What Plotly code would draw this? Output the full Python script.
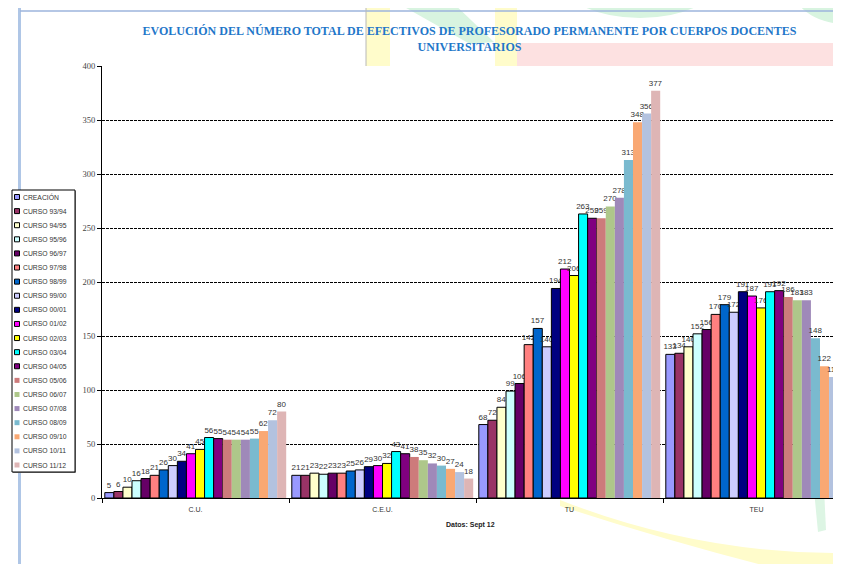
import plotly.graph_objects as go

# ---------------- data ----------------
categories = ["C.U.", "C.E.U.", "TU", "TEU"]
series_names = ["CREACIÓN", "CURSO 93/94", "CURSO 94/95", "CURSO 95/96", "CURSO 96/97",
                "CURSO 97/98", "CURSO 98/99", "CURSO 99/00", "CURSO 00/01", "CURSO 01/02",
                "CURSO 02/03", "CURSO 03/04", "CURSO 04/05", "CURSO 05/06", "CURSO 06/07",
                "CURSO 07/08", "CURSO 08/09", "CURSO 09/10", "CURSO 10/11", "CURSO 11/12"]
cu_values = [5, 6, 10, 16, 18, 21, 26, 30, 34, 41, 45, 56, 55, 54, 54, 54, 55, 62, 72, 80]
ceu_values = [21, 21, 23, 22, 23, 23, 25, 26, 29, 30, 32, 43, 41, 38, 35, 32, 30, 27, 24, 18]
tu_values = [68, 72, 84, 99, 106, 142, 157, 140, 194, 212, 206, 263, 259, 259, 270, 278, 313, 348, 356, 377]
teu_values = [133, 134, 140, 152, 156, 170, 179, 172, 191, 187, 176, 191, 192, 186, 183, 183, 148, 122, 112, 84]
y_ticks = [0, 50, 100, 150, 200, 250, 300, 350, 400]

# ---------------- styles ----------------
colors = ["#9999FF", "#993366", "#FFFFCC", "#CCFFFF", "#660066", "#FF8080", "#0066CC",
          "#CCCCFF", "#000080", "#FF00FF", "#FFFF00", "#00FFFF", "#800080",
          "#CD7B7B", "#AEC78A", "#9F89B9", "#7ABACF", "#F9A873", "#B3C2DF", "#DEB5B5"]
outlined = 13  # first series drawn with black outline

OFF = 8                      # page body margin offset
W, H = 841, 564
PAGE_L, PAGE_T = 102, 66     # plot-area corner in page pixels
L, T = PAGE_L - OFF, PAGE_T - OFF
PH = 432
PW = W - L
B = H - T - PH
CAT_W = 187.0


def px(x):
    return (x - PAGE_L) / PW


def py(y):
    return 1 - (y - PAGE_T) / PH


fig = go.Figure()
for i, name in enumerate(series_names):
    vals = [cu_values[i], ceu_values[i], tu_values[i], teu_values[i]]
    fig.add_trace(go.Bar(
        name=name, x=categories, y=vals,
        marker=dict(color=colors[i],
                    line=dict(color="black", width=1 if i < outlined else 0)),
        text=[str(v) for v in vals], textposition="outside",
        textfont=dict(family="Liberation Sans", size=8, color="#333333"),
        constraintext="none", textangle=0, cliponaxis=False,
        showlegend=False,
    ))

shapes = []
# background watermark (approximate)
bg = dict(layer="below", xref="paper", yref="paper", line=dict(width=0))
shapes.append(dict(type="rect", x0=px(366), x1=px(390), y0=py(0), y1=py(66), fillcolor="#FFFCCB", **bg))
shapes.append(dict(type="rect", x0=px(495), x1=px(517), y0=py(0), y1=py(66), fillcolor="#FFFCCB", **bg))
shapes.append(dict(type="rect", x0=px(517), x1=px(850), y0=py(43), y1=py(66), fillcolor="#FDE1E1", **bg))
shapes.append(dict(type="path", path="M %f,%f L %f,%f L %f,%f L %f,%f Z" % (
    px(392), py(0), px(450), py(0), px(494), py(42), px(470), py(44)), fillcolor="#D8F4E0", **bg))
shapes.append(dict(type="circle", x0=px(560), x1=px(720), y0=py(-60), y1=py(18), fillcolor="#D8F4E0", **bg))
shapes.append(dict(type="circle", x0=px(790), x1=px(900), y0=py(-60), y1=py(24), fillcolor="#D8F4E0", **bg))
shapes.append(dict(type="path", path="M %f,%f Q %f,%f %f,%f L %f,%f L %f,%f Q %f,%f %f,%f Z" % (
    px(560), py(500), px(700), py(555), px(850), py(553),
    px(850), py(572), px(790), py(572),
    px(680), py(545), px(560), py(506)), fillcolor="#FFFCCB", **bg))
shapes.append(dict(type="path", path="M %f,%f L %f,%f L %f,%f L %f,%f Z" % (
    px(814), py(490), px(824), py(488), px(826), py(530), px(818), py(532)), fillcolor="#DDF5E4", **bg))
shapes.append(dict(type="rect", x0=px(18), x1=px(21), y0=py(0), y1=py(572), fillcolor="#AFC6E6", **bg))
shapes.append(dict(type="line", x0=px(20), x1=px(850), y0=py(11), y1=py(11), layer="below",
                   xref="paper", yref="paper", line=dict(color="#9DB5DD", width=1.5)))
shapes.append(dict(type="line", x0=px(366), x1=px(366), y0=py(0), y1=py(66), layer="below",
                   xref="paper", yref="paper", line=dict(color="#B8B8B8", width=1)))

# legend box (drawn from series names / colours)
leg_top, leg_bot = 190, 472
shapes.append(dict(type="rect", xref="paper", yref="paper", x0=px(13), x1=px(76), y0=py(leg_bot + 1), y1=py(leg_top + 1),
                   fillcolor="#888888", line=dict(width=0)))
shapes.append(dict(type="rect", xref="paper", yref="paper", x0=px(12), x1=px(75), y0=py(leg_bot), y1=py(leg_top),
                   fillcolor="white", line=dict(color="black", width=1)))
annotations = []
step = (465 - 197) / (len(series_names) - 1)
for i, name in enumerate(series_names):
    yc = 197 + i * step
    shapes.append(dict(type="rect", xref="paper", yref="paper",
                       x0=px(14.5), x1=px(19.5), y0=py(yc + 2.5), y1=py(yc - 2.5),
                       fillcolor=colors[i],
                       line=dict(color="black", width=1 if i < outlined else 0)))
    annotations.append(dict(xref="paper", yref="paper", x=px(20.5), y=py(yc), xanchor="left", yanchor="middle",
                            text=name, showarrow=False,
                            font=dict(family="Liberation Sans", size=6.8, color="#333333")))

annotations.append(dict(xref="paper", yref="paper", x=px(470), y=py(525), xanchor="center", yanchor="middle",
                        text="<b>Datos: Sept 12</b>", showarrow=False,
                        font=dict(family="Liberation Sans", size=7, color="#222222")))

fig.update_layout(
    width=W, height=H,
    margin=dict(l=L, r=0, t=T, b=B, pad=0),
    paper_bgcolor="white", plot_bgcolor="white",
    barmode="group", bargap=0.03, bargroupgap=0,
    title=dict(text="EVOLUCIÓN DEL NÚMERO TOTAL DE EFECTIVOS DE PROFESORADO PERMANENTE POR CUERPOS DOCENTES<br>UNIVERSITARIOS",
               x=(469.5 - OFF) / W, xanchor="center", xref="container",
               y=1 - 27 / H, yanchor="top", yref="container",
               font=dict(family="Liberation Serif", size=12, color="#1F77C9", weight="bold")),
    xaxis=dict(range=[-0.5, -0.5 + PW / CAT_W], showline=True, linecolor="black", linewidth=1,
               ticks="outside", tickson="boundaries", ticklen=4, tickcolor="black",
               ticklabelstandoff=5,
               tickfont=dict(family="Liberation Sans", size=7, color="#333333"), showgrid=False),
    yaxis=dict(range=[0, 400], tickvals=y_ticks, showline=True, linecolor="black", linewidth=1,
               ticks="outside", ticklen=4, tickcolor="black",
               tickfont=dict(family="Liberation Serif", size=8.5, color="#444444"),
               showgrid=True, gridcolor="black", gridwidth=1, griddash="3px,1px", zeroline=False),
    shapes=shapes, annotations=annotations, showlegend=False,
)

fig.write_html("out.html")
